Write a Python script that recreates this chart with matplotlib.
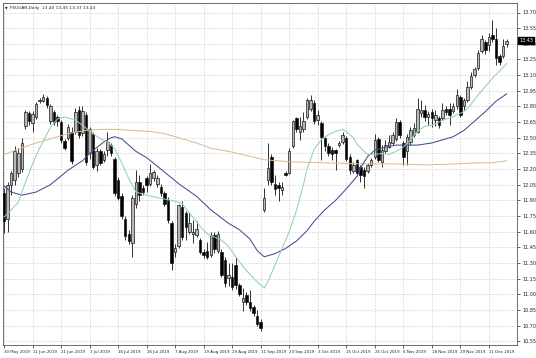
import matplotlib
matplotlib.use("Agg")
import matplotlib.pyplot as plt
import matplotlib.transforms as mtransforms

# ---------------- data ----------------
opens = [11.97, 11.72, 12.05, 12.10, 12.16, 12.20, 12.61, 12.74, 12.64, 12.70,
         12.85, 12.85, 12.88, 12.66, 12.75, 12.70, 12.65, 12.47, 12.50, 12.56,
         12.56, 12.77, 12.55, 12.72, 12.35, 12.54, 12.24, 12.37, 12.29, 12.38,
         12.43, 12.30, 12.10, 11.94, 11.72, 11.58, 11.49, 11.87, 12.08, 12.02,
         12.11, 12.06, 12.11, 12.06, 12.03, 11.97, 11.90, 11.68, 11.41, 11.46,
         11.84, 11.78, 11.60, 11.58, 11.57, 11.52, 11.41, 11.42, 11.38, 11.57,
         11.42, 11.41, 11.33, 11.16, 11.17, 11.28, 11.09, 10.93, 10.99, 10.93,
         10.88, 10.79, 10.74, 11.81, 12.10, 12.32, 12.06, 12.05, 12.00, 12.16,
         12.16, 12.42, 12.69, 12.56, 12.58, 12.70, 12.78, 12.83, 12.67, 12.64,
         12.50, 12.42, 12.38, 12.38, 12.43, 12.46, 12.50, 12.32, 12.18, 12.29,
         12.22, 12.19, 12.18, 12.24, 12.32, 12.49, 12.27, 12.37, 12.41, 12.45,
         12.49, 12.65, 12.45, 12.37, 12.46, 12.53, 12.56, 12.74, 12.77, 12.70,
         12.75, 12.67, 12.69, 12.69, 12.78, 12.78, 12.76, 12.80, 12.89, 12.80,
         12.86, 12.99, 13.10, 13.17, 13.33, 13.42, 13.39, 13.48, 13.45, 13.28,
         13.28, 13.40]
highs = [12.02, 12.08, 12.18, 12.42, 12.40, 12.50, 12.77, 12.76, 12.76, 12.84,
         12.88, 12.92, 12.90, 12.82, 12.77, 12.72, 12.67, 12.49, 12.63, 12.60,
         12.79, 12.80, 12.80, 12.75, 12.60, 12.56, 12.40, 12.39, 12.37, 12.56,
         12.45, 12.32, 12.12, 11.97, 11.75, 11.62, 11.95, 12.19, 12.14, 12.05,
         12.13, 12.25, 12.19, 12.14, 12.06, 11.99, 11.93, 11.70, 11.48, 11.87,
         11.89, 11.80, 11.79, 11.71, 11.70, 11.54, 11.43, 11.50, 11.60, 11.60,
         11.61, 11.43, 11.36, 11.30, 11.30, 11.36, 11.11, 11.06, 11.02, 11.04,
         10.90, 10.85, 10.76, 12.02, 12.45, 12.34, 12.14, 12.08, 12.08, 12.18,
         12.40, 12.67, 12.70, 12.70, 12.75, 12.88, 12.91, 12.86, 12.77, 12.66,
         12.51, 12.45, 12.41, 12.39, 12.47, 12.56, 12.52, 12.34, 12.27, 12.30,
         12.24, 12.22, 12.26, 12.31, 12.54, 12.51, 12.43, 12.48, 12.53, 12.56,
         12.69, 12.67, 12.47, 12.54, 12.60, 12.64, 12.88, 12.86, 12.81, 12.76,
         12.78, 12.77, 12.71, 12.83, 12.80, 12.83, 12.83, 12.97, 12.91, 12.88,
         13.04, 13.13, 13.18, 13.34, 13.48, 13.44, 13.50, 13.63, 13.55, 13.30,
         13.45, 13.45]
lows = [11.59, 11.60, 11.95, 12.05, 12.12, 12.17, 12.58, 12.62, 12.56, 12.68,
        12.83, 12.84, 12.79, 12.63, 12.62, 12.61, 12.45, 12.38, 12.48, 12.25,
        12.54, 12.50, 12.52, 12.24, 12.30, 12.20, 12.18, 12.24, 12.27, 12.33,
        12.33, 11.94, 11.90, 11.72, 11.52, 11.48, 11.36, 11.83, 11.89, 11.95,
        11.98, 12.04, 12.09, 12.03, 11.94, 11.85, 11.68, 11.23, 11.36, 11.44,
        11.52, 11.52, 11.58, 11.49, 11.55, 11.39, 11.35, 11.34, 11.36, 11.40,
        11.40, 11.17, 11.07, 11.08, 11.04, 11.05, 10.98, 10.84, 10.90, 10.84,
        10.79, 10.70, 10.65, 11.79, 12.05, 12.05, 11.95, 11.89, 11.95, 12.13,
        12.15, 12.40, 12.56, 12.48, 12.56, 12.68, 12.76, 12.63, 12.62, 12.29,
        12.37, 12.33, 12.29, 12.19, 12.41, 12.44, 12.28, 12.15, 12.16, 12.13,
        12.08, 12.02, 12.16, 12.22, 12.30, 12.27, 12.22, 12.35, 12.40, 12.43,
        12.47, 12.50, 12.24, 12.24, 12.43, 12.51, 12.55, 12.70, 12.66, 12.62,
        12.60, 12.61, 12.59, 12.67, 12.72, 12.62, 12.74, 12.78, 12.70, 12.77,
        12.84, 12.97, 13.08, 13.15, 13.31, 13.30, 13.33, 13.42, 13.20, 13.20,
        13.26, 13.37]
closes = [11.70, 12.05, 12.16, 12.37, 12.35, 12.45, 12.75, 12.66, 12.73, 12.82,
          12.86, 12.89, 12.81, 12.80, 12.65, 12.66, 12.48, 12.40, 12.60, 12.28,
          12.75, 12.53, 12.76, 12.27, 12.58, 12.22, 12.37, 12.26, 12.34, 12.46,
          12.35, 11.97, 11.92, 11.75, 11.56, 11.51, 11.92, 12.08, 11.95, 11.98,
          12.05, 12.16, 12.17, 12.11, 11.97, 11.87, 11.71, 11.30, 11.44, 11.86,
          11.55, 11.65, 11.68, 11.60, 11.63, 11.41, 11.38, 11.36, 11.57, 11.43,
          11.58, 11.19, 11.11, 11.19, 11.07, 11.09, 11.00, 10.97, 10.93, 10.87,
          10.82, 10.72, 10.68, 11.92, 12.21, 12.08, 12.01, 12.02, 12.03, 12.14,
          12.37, 12.66, 12.58, 12.61, 12.66, 12.86, 12.86, 12.66, 12.72, 12.51,
          12.42, 12.35, 12.34, 12.35, 12.45, 12.53, 12.30, 12.19, 12.24, 12.16,
          12.14, 12.13, 12.24, 12.29, 12.48, 12.29, 12.38, 12.43, 12.46, 12.53,
          12.65, 12.53, 12.32, 12.51, 12.57, 12.59, 12.78, 12.77, 12.70, 12.73,
          12.69, 12.72, 12.62, 12.77, 12.75, 12.72, 12.80, 12.91, 12.72, 12.86,
          12.99, 13.09, 13.16, 13.31, 13.45, 13.34, 13.47, 13.45, 13.26, 13.23,
          13.38, 13.43]

# moving-average lines (bar index, price)
ma_fast_idx = [0, 4, 5, 8, 10, 13, 15, 17, 20, 22, 25, 27, 29, 31, 33, 35, 37, 40,
               44, 47, 50, 51, 53, 55, 57, 59, 61, 63, 65, 67, 69, 71, 73, 74, 76,
               78, 80, 82, 84, 85, 87, 89, 91, 93, 95, 96, 98, 99, 101, 102, 104,
               106, 108, 110, 112, 114, 116, 118, 120, 122, 124, 126, 127, 129,
               131, 133, 135, 137, 139, 141]
ma_fast_val = [11.74, 11.88, 11.98, 12.25, 12.40, 12.60, 12.68, 12.70, 12.67, 12.62,
               12.54, 12.49, 12.46, 12.40, 12.26, 12.11, 11.98, 11.95, 11.92, 11.90,
               11.87, 11.82, 11.74, 11.65, 11.58, 11.55, 11.52, 11.46, 11.36, 11.27,
               11.19, 11.12, 11.06, 11.12, 11.28, 11.44, 11.60, 11.80, 12.05, 12.20,
               12.39, 12.48, 12.53, 12.56, 12.58, 12.56, 12.50, 12.44, 12.37, 12.34,
               12.34, 12.35, 12.34, 12.37, 12.41, 12.48, 12.56, 12.61, 12.62, 12.65,
               12.68, 12.70, 12.72, 12.75, 12.82, 12.91, 12.99, 13.07, 13.14, 13.21]
ma_mid_idx = [0, 2, 5, 9, 13, 18, 22, 25, 28, 30, 31, 33, 35, 37, 40, 44, 49, 54,
              58, 63, 66, 69, 71, 73, 76, 79, 82, 85, 87, 90, 93, 96, 99, 100, 102,
              104, 107, 110, 113, 116, 120, 123, 126, 129, 132, 135, 138, 141]
ma_mid_val = [12.04, 11.98, 11.95, 11.98, 12.05, 12.19, 12.28, 12.38, 12.46, 12.50,
              12.51, 12.49, 12.43, 12.37, 12.31, 12.20, 12.06, 11.94, 11.81, 11.68,
              11.62, 11.53, 11.42, 11.36, 11.39, 11.44, 11.51, 11.61, 11.70, 11.81,
              11.90, 12.01, 12.13, 12.21, 12.32, 12.38, 12.41, 12.43, 12.43, 12.43,
              12.45, 12.48, 12.51, 12.57, 12.66, 12.75, 12.85, 12.92]
ma_slow_idx = [0, 4, 9, 14, 18, 23, 27, 32, 36, 41, 45, 48, 54, 58, 63, 68, 73, 80,
               90, 100, 110, 118, 127, 133, 137, 141]
ma_slow_val = [12.34, 12.39, 12.45, 12.50, 12.54, 12.57, 12.58, 12.58, 12.57, 12.56,
               12.54, 12.51, 12.45, 12.40, 12.37, 12.33, 12.29, 12.27, 12.26, 12.25,
               12.25, 12.24, 12.25, 12.26, 12.26, 12.28]

date_label_bars = [0, 8, 16, 24, 32, 40, 48, 56, 64, 72, 80, 88, 96, 104, 112, 120, 128, 136]
date_labels = ["30 May 2019", "11 Jun 2019", "21 Jun 2019", "3 Jul 2019", "16 Jul 2019",
               "26 Jul 2019", "7 Aug 2019", "19 Aug 2019", "29 Aug 2019", "11 Sep 2019",
               "23 Sep 2019", "3 Oct 2019", "15 Oct 2019", "25 Oct 2019", "6 Nov 2019",
               "18 Nov 2019", "29 Nov 2019", "11 Dec 2019"]
price_ticks = [10.55, 10.70, 10.85, 11.00, 11.15, 11.30, 11.45, 11.60, 11.75, 11.90,
               12.05, 12.20, 12.35, 12.50, 12.65, 12.80, 12.95, 13.10, 13.25, 13.40,
               13.55, 13.70]
header = "PSUGAR,Daily  13.40 13.45 13.37 13.43"
last_price = 13.43

# ---------------- drawing ----------------
plt.rcParams['font.family'] = ['DejaVu Sans']
W, H = 536, 358
fig = plt.figure(figsize=(W / 100, H / 100), dpi=100)
fig.patch.set_facecolor('white')
ax = fig.add_axes([3 / W, 13 / H, 514 / W, 342 / H])
ax.set_facecolor('white')

idx = list(range(len(closes)))
body_low = [min(o, c) for o, c in zip(opens, closes)]
body_h = [max(abs(c - o), 0.004) for o, c in zip(opens, closes)]
colors = ['#b8b8b8' if c >= o else '#000000' for o, c in zip(opens, closes)]

ax.vlines(idx, lows, highs, color='#111111', linewidth=0.6, zorder=2)
ax.bar(idx, body_h, bottom=body_low, width=0.7, color=colors,
       edgecolor='#1a1a1a', linewidth=0.5, zorder=3)

ax.plot(ma_slow_idx, ma_slow_val, color='#dcbc98', linewidth=0.75, zorder=4)
ax.plot(ma_mid_idx, ma_mid_val, color='#4b4b94', linewidth=0.75, zorder=4)
ax.plot(ma_fast_idx, ma_fast_val, color='#90d2b4', linewidth=0.75, zorder=4)

ax.set_xlim(-0.28, 143.9)
ax.set_ylim(10.515, 13.791)

ax.set_yticks(price_ticks)
ax.set_yticklabels([f"{v:.2f}" for v in price_ticks])
ax.yaxis.tick_right()
ax.tick_params(axis='y', which='both', length=2.2, width=0.5, pad=1.5,
               labelsize=3.5, colors='#222222')
ax.set_xticks(date_label_bars)
ax.set_xticklabels(date_labels)
for lbl in ax.get_xticklabels():
    lbl.set_horizontalalignment('left')
ax.tick_params(axis='x', which='both', length=2.2, width=0.5, pad=1.5,
               labelsize=2.85, colors='#222222')

ax.grid(True, color='#c8c8c8', linestyle=(0, (2, 2)), linewidth=0.5, zorder=0)
ax.set_axisbelow(True)
for sp in ax.spines.values():
    sp.set_color('#555555')
    sp.set_linewidth(0.6)

ax.text(0.004, 0.988, "\u25BC", transform=ax.transAxes, fontsize=2.4,
        va='top', ha='left', color='black')
ax.text(0.014, 0.99, header, transform=ax.transAxes, fontsize=3.1,
        va='top', ha='left', color='#222222')

trans = mtransforms.blended_transform_factory(ax.transAxes, ax.transData)
ax.text(1.004, last_price, f"{last_price:.2f}", transform=trans, fontsize=3.5,
        va='center', ha='left', color='white', clip_on=False, zorder=10,
        bbox=dict(boxstyle='square,pad=0.25', facecolor='black', edgecolor='black'))

fig.savefig('out.png', dpi=100)
